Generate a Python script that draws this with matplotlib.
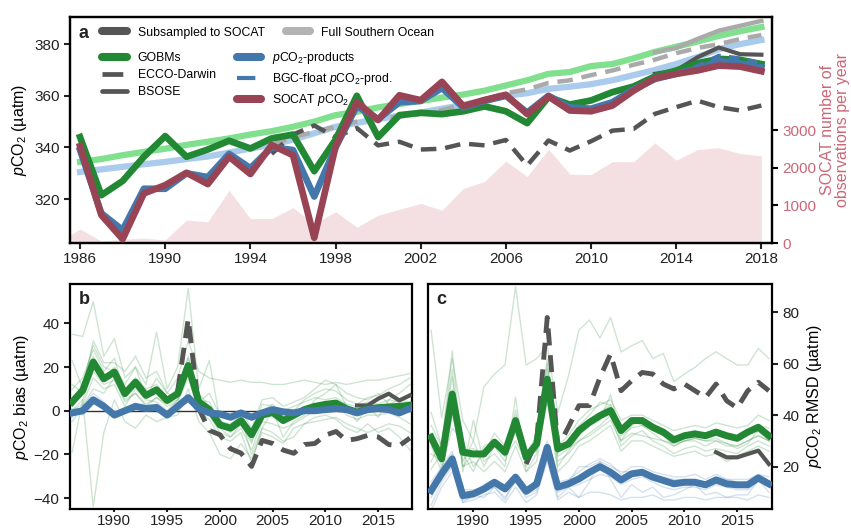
import matplotlib
matplotlib.use("Agg")
import matplotlib.pyplot as plt
from matplotlib.lines import Line2D

plt.rcParams['font.family'] = ['Liberation Sans', 'DejaVu Sans']
plt.rcParams['mathtext.fontset'] = 'custom'
plt.rcParams['mathtext.rm'] = 'Liberation Sans'
plt.rcParams['mathtext.it'] = 'Liberation Sans:italic'
plt.rcParams['mathtext.bf'] = 'Liberation Sans:bold'
plt.rcParams['axes.linewidth'] = 1.6
plt.rcParams['xtick.labelsize'] = 11
plt.rcParams['ytick.labelsize'] = 11
plt.rcParams['xtick.color'] = '#222222'
plt.rcParams['ytick.color'] = '#222222'

# === цвета ===
GREEN = "#228833"
LGREEN = "#80e08e"
BLUE = "#4477aa"
LBLUE = "#aacbeb"
WINE = "#994455"
DGRAY = "#555555"
LGRAY = "#aaaaaa"
ROSE = "#cc6677"

# === данные: панель a ===
years = list(range(1986, 2019))
gobm_sub = [344, 321.5, 327, 336.4, 344.4, 336.4, 339.2, 342.6, 339.6, 343.5, 345, 330.8, 343,
            360, 344, 352.5, 353.4, 352.9, 354, 355.9, 354, 349.4, 359.5, 356.6, 358.2, 361.4,
            363.6, 367.5, 369.8, 372.6, 374.3, 373.9, 372.3]
prod_sub = [339, 314.5, 308, 324, 324, 330, 328.5, 337.5, 332, 340, 339, 321, 340, 356, 351,
            357.5, 358, 363, 355.5, 358, 360, 353.5, 360, 355.5, 355, 357.5, 362.5, 366.5, 368.5,
            370.5, 373.5, 372.5, 371]
socat = [340.5, 313.8, 304.5, 322.2, 325.4, 330.2, 325.8, 336.4, 329.7, 340.9, 337, 305, 340.3,
         357.6, 350.6, 360.2, 358.3, 365.4, 356, 358.4, 360.4, 352.9, 359.7, 354.3, 354, 356.2,
         362, 366.8, 368.5, 369.8, 371.7, 371.3, 369.5]
gobm_full = [334.4, 335.5, 337, 338.3, 339.5, 341, 342.2, 343.5, 345, 346.3, 348, 350, 352.5,
             353.8, 355.5, 356.8, 358, 359.3, 360.5, 362, 364, 366, 368.5, 369.2, 371.5, 372.3,
             374.5, 377, 379, 381, 383.2, 385, 386.6]
prod_full = [330.5, 331.5, 332.5, 333.5, 334.4, 335.5, 336.5, 338, 339.6, 341, 343, 345.5, 348,
             349.5, 351, 352.3, 353.5, 355, 356.5, 358.3, 360, 361, 362.7, 363.5, 364.5, 366,
             368, 370, 372.3, 375, 378, 380, 381.6]

ecco_years = list(range(1995, 2019))
ecco_sub = [337.5, 345, 348.5, 344, 347.5, 340.8, 342.2, 339.2, 339.5, 341.5, 340.8, 342.9, 333,
            342.7, 338.8, 342.4, 346.5, 347.2, 353, 355.6, 358.1, 355.6, 354.3, 356.2]
ecco_full = [341, 344, 346, 348, 350, 351, 352, 353, 354.5, 356.5, 358.5, 361, 362.5, 365, 366,
             368, 369.8, 372, 374, 376.5, 378.5, 380, 382, 383.5]

bsose_years = list(range(2013, 2019))
bsose_sub = [368.5, 369.8, 374.9, 378.7, 376.1, 375.9]
bsose_full = [376.9, 378.5, 382, 385.2, 387.1, 389]

float_years = list(range(2014, 2019))
float_sub = [368.8, 371.5, 375.5, 374.5, 372.5]

obs_years = list(range(1985, 2019))
obs_count = [30, 370, 50, 100, 130, 80, 608, 565, 1400, 650, 650, 940, 505, 835, 418, 740, 895,
             1050, 870, 1450, 1635, 2175, 1765, 2490, 1830, 1815, 2160, 2160, 2660, 2200, 2480,
             2530, 2375, 2315]

# === данные: панель b (bias) ===
gobm_bias = [4, 9.3, 22.3, 14.6, 17.7, 7.8, 13.1, 7, 9.6, 4.7, 7.8, 20.7, 4, 0.5, -6.5, -8, -4.5,
             -11, -2, -0.8, -4.5, -2.1, 0.5, 2, 2.9, 3.5, 0.9, -0.6, 0.9, 1.4, 1.7, 2, 2.5]
prod_bias = [-1, 0, 5, 2, -2, 0, 2, 1, 1.5, -2, 2, 6, 1, -1, -1.5, -3, -1, -3, -1, 0.5, -0.5, -1,
             0, 0, 0.5, 1, 0.5, -1, 0.5, 1, 0.5, -1, 1]
ecco_bias_years = list(range(1996, 2019))
ecco_bias = [9, 42, 1, -9, -11, -17.4, -19.4, -25.5, -13.6, -15, -18, -19.5, -15.5, -15, -11.2,
             -9.5, -13.6, -12.8, -11.3, -12, -15.5, -16, -12.5]
bsose_bias = [2.4, 2.4, 5.5, 7.8, 4.7, 7]

gobm_bias_models = [
    [35, 34, 50, 25, 33, 15, 20, 12, 36, 10, 20, 56, 10, 23, -4, -10, -3, -20, -8, 0, -12, -5, -2,
     5, 8, 12, 2, -5, 2, -3, 5, 8, 12],
    [-19, 5, -44, -10, 5, -5, -8, -2, -5, -3, -2, 10, -5, -10, -20, -22, -15, -22, -10, -12, -15,
     -8, -6, -3, -2, -4, -8, -10, -6, -10, -8, -12, -18],
    [23, 10, 32, 22, 22, 18, 25, 15, 18, 8, 15, 32, 18, 15, 14, 13, 14, 13, 13, 12, 12, 13, 14, 13,
     12, 13, 12, 13, 14, 14, 15, 16, 17],
    [10, 15, 28, 18, 24, 8, 15, 10, 12, 5, 8, 24, 8, 2, -8, -12, -6, -15, 0, 3, -2, 0, 5, 8, 10, 9,
     5, 3, 6, 7, 10, 12, 15],
    [0, 3, 15, 10, 12, 2, 10, 5, 4, 0, 5, 18, 2, -2, -10, -12, -8, -18, -5, -6, -8, -6, -3, 0, 2, 3,
     -2, -4, -2, -2, -1, -3, -6],
    [5, 12, 30, 20, 18, 10, 12, 8, 10, 6, 10, 25, 5, 4, -5, -6, -2, -10, 3, 2, 0, 2, 4, 6, 5, 6, 3,
     2, 4, 3, 5, 4, 8],
    [-5, 2, 10, 8, 15, 5, 8, 3, 6, 2, 4, 15, 0, -4, -12, -14, -10, -24, -8, -10, -14, -12, -6, -5,
     -4, -3, -6, -8, -10, -8, -6, -7, -10],
    [12, 8, 25, 14, 20, 12, 20, 6, 15, 8, 6, 20, 4, 8, -2, -4, 0, -8, 5, 6, 2, 4, 6, 10, 14, 12, 8,
     6, 5, 8, 3, 5, 4],
    [0, 5, 18, 12, 14, 4, 8, 2, 6, 3, 5, 19, 3, -2, -6, -8, -4, -14, -2, 0, -4, -2, 0, 2, 3, 2, 0,
     -2, 0, 1, 0, -1, 0],
]
prod_bias_models = [
    [-2, -1, 6, 3, -3, 0, 3, 2, 2, -3, 2, 7, 1, -1, -2, -3, -1, -4, -1, 0, -1, -1, 0, 0, 1, 1, 0,
     -1, 0, 1, 0, -1, 1],
    [0, 1, 4, 1, -1, 1, 2, 0, 1, -2, 3, 5, 2, 0, -1, -2, 0, -2, 0, 1, 0, 0, 1, 1, 0, 1, 1, 0, 1, 2,
     1, 0, 2],
    [-3, 2, 8, 4, -2, -1, 1, 2, 3, -1, 1, 6, 0, -2, -3, -4, -2, -3, -2, 1, 0, -2, -1, -1, 1, 0, 0,
     -2, 0, 0, 0, -2, 0],
    [1, -2, 3, 2, -3, 1, 3, 1, 0, -3, 2, 4, 1, -1, -1, -3, -1, -4, 0, 0, -1, -1, 0, 1, 0, 1, 1, 0,
     0, 1, 1, -1, 1],
]

# === данные: панель c (RMSD) ===
gobm_rmsd = [31.4, 23, 48.2, 25.6, 24.9, 24.9, 29.5, 25.6, 37.9, 23.6, 28.8, 54, 26.9, 28.8, 34,
             37.2, 39.8, 41.8, 34, 37.9, 37.9, 35.3, 33.4, 30.4, 32, 32.7, 32, 33.4, 32, 31, 33.4,
             35.3, 32]
prod_rmsd = [10.7, 17.2, 23, 8.7, 9.4, 11.3, 13.9, 11.3, 15.9, 10.4, 13.3, 27.5, 12, 13.3, 15.2,
             17.8, 20, 17.8, 14.8, 17.2, 17.8, 15.9, 14.6, 13.3, 13.9, 13.9, 12.9, 14.8, 13.3,
             12.9, 12.9, 15.6, 13.3]
ecco_rmsd_years = list(range(1995, 2019))
ecco_rmsd = [21, 30, 78, 27.5, 35.3, 43.7, 43.7, 54.7, 63.8, 49.5, 53.4, 56.6, 56, 52.1, 50.2,
             52.1, 49.5, 46.9, 52.1, 45.6, 42.8, 49.5, 52.8, 49.5]
bsose_rmsd = [25.6, 23.6, 23.6, 24.9, 26.2, 21]

gobm_rmsd_models = [
    [73, 39, 62, 38, 30, 51, 56, 59.5, 90, 59.5, 62, 67, 41, 55, 73, 77, 70, 78, 64.6, 67, 69, 62,
     64, 53, 56, 58.6, 62, 64.6, 62, 59.5, 59.5, 66, 62],
    [41, 28, 65, 22, 30, 20, 28, 22, 35, 20, 30, 62, 25, 30, 36, 40, 45, 44, 35, 38, 36, 33, 30, 28,
     30, 30, 28, 30, 28, 28, 30, 32, 30],
    [22, 30, 58, 18, 38, 22, 25, 20, 47, 18, 25, 58, 22, 25, 30, 33, 36, 40, 28, 32, 34, 30, 28, 25,
     27, 28, 26, 27, 26, 25, 28, 30, 28],
    [28, 18, 40, 25, 18, 28, 30, 24, 30, 22, 28, 50, 20, 26, 32, 36, 38, 48, 32, 35, 36, 34, 32, 30,
     33, 34, 32, 34, 33, 32, 34, 36, 35],
    [19, 25, 50, 20, 22, 18, 22, 18, 28, 18, 22, 46, 18, 22, 28, 30, 33, 36, 26, 30, 30, 28, 26, 24,
     25, 26, 24, 25, 22, 24, 26, 28, 26],
    [33, 20, 35, 30, 20, 25, 33, 28, 40, 25, 32, 55, 28, 32, 38, 42, 44, 46, 38, 40, 40, 38, 36, 34,
     35, 36, 35, 37, 36, 35, 36, 40, 38],
    [25, 22, 45, 26, 27, 24, 28, 26, 33, 24, 26, 45, 24, 27, 30, 32, 35, 38, 30, 33, 32, 31, 30, 29,
     30, 31, 30, 30, 29, 28, 30, 32, 30],
    [36, 28, 55, 20, 25, 26, 30, 24, 42, 22, 30, 60, 26, 28, 33, 38, 41, 44, 30, 36, 38, 34, 32, 28,
     30, 31, 30, 31, 29, 27, 29, 34, 30],
]
prod_rmsd_models = [
    [5, 14, 20, 7, 8, 10, 12, 8, 14, 8, 10, 25, 10, 12, 13, 15, 17, 16, 13, 15, 16, 14, 12, 11, 12,
     12, 11, 13, 12, 11, 11, 14, 12],
    [14, 20, 26, 10, 10, 13, 15, 12, 17, 11, 15, 30, 14, 15, 18, 21, 23, 21, 17, 20, 20, 18, 17, 16,
     16, 17, 15, 17, 15, 15, 15, 17, 16],
    [8, 16, 22, 6, 9, 8, 12, 7, 16, 9, 11, 28, 8, 12, 8, 14, 22, 15, 8, 13, 10, 12, 8, 9, 11, 13, 9,
     10, 8, 9, 9, 15, 10],
    [12, 18, 25, 11, 11, 12, 15, 13, 15, 12, 14, 26, 12, 14, 20, 20, 22, 20, 18, 18, 18, 17, 16, 15,
     15, 15, 14, 16, 15, 14, 14, 16, 14],
    [3, 12, 18, 6, 7, 9, 10, 6, 12, 6, 9, 22, 7, 10, 8, 10, 10, 9, 7, 8, 8, 9, 7, 7, 8, 8, 7, 8, 8,
     8, 7, 9, 8],
]

PCO2 = r"$p$CO$_2$"
DASH = (3.5, 2.0)

fig = plt.figure(figsize=(8.51, 5.30), dpi=100)

# === панель a ===
ax = fig.add_axes([0.0823, 0.5415, 0.8249, 0.4264])
axr = ax.twinx()
axr.fill_between(obs_years, obs_count, 0, color=ROSE, alpha=0.2, lw=0)
axr.set_ylim(0, 6000)
axr.set_yticks([0, 1000, 2000, 3000])
axr.tick_params(axis="y", colors="black", labelcolor=ROSE, direction="out", length=4, width=1.5)
axr.set_ylabel("SOCAT number of\nobservations per year", color=ROSE, fontsize=11.5,
               linespacing=1.0)
axr.yaxis.set_label_coords(1.068, 0.5)
ax.set_zorder(axr.get_zorder() + 1)
ax.patch.set_visible(False)

ax.plot(years, gobm_full, color=LGREEN, lw=4.5, zorder=2)
ax.plot(years, prod_full, color=LBLUE, lw=4.5, zorder=2)
ax.plot(ecco_years, ecco_full, color=LGRAY, lw=3.2, dashes=DASH, zorder=3)
ax.plot(bsose_years, bsose_full, color=LGRAY, lw=3.2, zorder=3)
ax.plot(ecco_years, ecco_sub, color=DGRAY, lw=3.2, dashes=DASH, zorder=4)
ax.plot(bsose_years, bsose_sub, color=DGRAY, lw=3.0, zorder=4)
ax.plot(years, gobm_sub, color=GREEN, lw=4.8, zorder=5)
ax.plot(years, prod_sub, color=BLUE, lw=4.8, zorder=6)
ax.plot(float_years, float_sub, color=BLUE, lw=3.0, dashes=(2.5, 2), zorder=6)
ax.plot(years, socat, color=WINE, lw=4.8, zorder=7)

ax.set_xlim(1985.53, 2018.5)
ax.set_ylim(303, 390.5)
ax.set_xticks(list(range(1986, 2019, 4)))
ax.set_yticks([320, 340, 360, 380])
ax.tick_params(direction="out", length=4, width=1.5)
ax.tick_params(axis="x", pad=2.5)
ax.set_ylabel(PCO2 + " (µatm)", fontsize=11.5, labelpad=4)
ax.text(0.012, 0.925, "a", transform=ax.transAxes, fontsize=13, fontweight="bold",
        ha="left", va="center", color="#222222")

leg_kw = dict(frameon=False, fontsize=8.8, handlelength=2.0, handletextpad=0.9,
              columnspacing=1.7, borderpad=0, borderaxespad=0, labelspacing=0.42)
h1 = [Line2D([], [], color=DGRAY, lw=5.8, solid_capstyle="round"),
      Line2D([], [], color="#b3b3b3", lw=5.8, solid_capstyle="round")]
leg1 = ax.legend(h1, ["Subsampled to SOCAT", "Full Southern Ocean"], ncol=2,
                 loc="upper left", bbox_to_anchor=(0.046, 0.958), **leg_kw)
ax.add_artist(leg1)
h2 = [Line2D([], [], color=GREEN, lw=5.8, solid_capstyle="round"),
      Line2D([], [], color=DGRAY, lw=3.4, linestyle=(0, (4.4, 10))),
      Line2D([], [], color=DGRAY, lw=3.4, solid_capstyle="round"),
      Line2D([], [], color=BLUE, lw=5.8, solid_capstyle="round"),
      Line2D([], [], color=BLUE, lw=3.0, linestyle=(0, (4.4, 10))),
      Line2D([], [], color=WINE, lw=5.8, solid_capstyle="round")]
l2 = ["GOBMs", "ECCO-Darwin", "BSOSE", PCO2 + "-products", "BGC-float " + PCO2 + "-prod.",
      "SOCAT " + PCO2]
ax.legend(h2, l2, ncol=2, loc="upper left", bbox_to_anchor=(0.046, 0.855), **leg_kw)

# === панель b ===
axb = fig.add_axes([0.0823, 0.0396, 0.4018, 0.4245])
for m in gobm_bias_models:
    axb.plot(years, m, color=GREEN, lw=1.0, alpha=0.22, zorder=1)
for m in prod_bias_models:
    axb.plot(years, m, color=BLUE, lw=1.0, alpha=0.22, zorder=1)
axb.axhline(0, color="#333333", lw=1.0, zorder=2)
axb.plot(ecco_bias_years, ecco_bias, color=DGRAY, lw=3.5, dashes=DASH, zorder=3)
axb.plot(bsose_years, bsose_bias, color=DGRAY, lw=3.0, zorder=3)
axb.plot(years, gobm_bias, color=GREEN, lw=5, zorder=4)
axb.plot(years, prod_bias, color=BLUE, lw=5, zorder=5)
axb.set_xlim(1985.8, 2018.2)
axb.set_ylim(-45, 58)
axb.set_xticks([1990, 1995, 2000, 2005, 2010, 2015])
axb.set_yticks([-40, -20, 0, 20, 40])
axb.tick_params(direction="out", length=4, width=1.5)
axb.tick_params(axis="x", length=2.5, pad=1.2)
axb.set_ylabel(PCO2 + " bias (µatm)", fontsize=11.5, labelpad=2)
axb.text(0.025, 0.93, "b", transform=axb.transAxes, fontsize=13, fontweight="bold",
         ha="left", va="center", color="#222222")

# === панель c ===
axc = fig.add_axes([0.5029, 0.0396, 0.4043, 0.4245])
for m in gobm_rmsd_models:
    axc.plot(years, m, color=GREEN, lw=1.0, alpha=0.22, zorder=1)
for m in prod_rmsd_models:
    axc.plot(years, m, color=BLUE, lw=1.0, alpha=0.22, zorder=1)
axc.plot(ecco_rmsd_years, ecco_rmsd, color=DGRAY, lw=3.5, dashes=DASH, zorder=3)
axc.plot(bsose_years, bsose_rmsd, color=DGRAY, lw=3.0, zorder=3)
axc.plot(years, gobm_rmsd, color=GREEN, lw=5, zorder=4)
axc.plot(years, prod_rmsd, color=BLUE, lw=5, zorder=5)
axc.set_xlim(1985.7, 2018.3)
axc.set_ylim(3.5, 91)
axc.set_xticks([1990, 1995, 2000, 2005, 2010, 2015])
axc.set_yticks([20, 40, 60, 80])
axc.yaxis.tick_right()
axc.yaxis.set_label_position("right")
axc.tick_params(direction="out", length=4, width=1.5)
axc.tick_params(axis="x", length=2.5, pad=1.2)
axc.set_ylabel(PCO2 + " RMSD (µatm)", fontsize=11.5, labelpad=4)
axc.text(0.025, 0.93, "c", transform=axc.transAxes, fontsize=13, fontweight="bold",
         ha="left", va="center", color="#222222")

fig.savefig("out.png", dpi=100, facecolor="white")
